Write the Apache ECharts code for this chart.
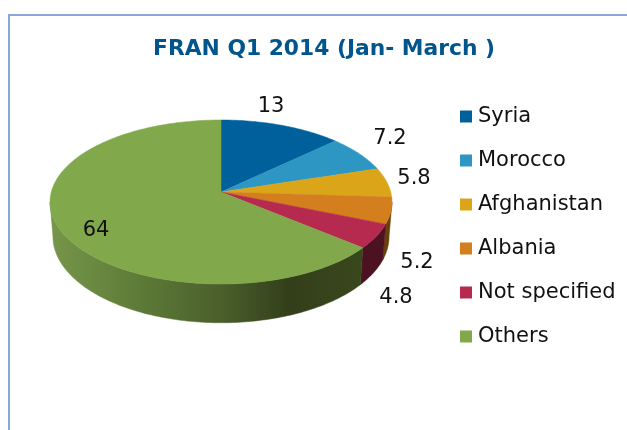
<!DOCTYPE html>
<html>
<head>
<meta charset="utf-8">
<style>html,body{margin:0;padding:0;background:#fff}#c{width:627px;height:430px}</style>
<script src="https://cdn.jsdelivr.net/npm/echarts@6/dist/echarts.min.js"></script>
</head>
<body>
<div id="c"></div>
<script>
const categories = ['Syria', 'Morocco', 'Afghanistan', 'Albania', 'Not specified', 'Others'];
const values = [13, 7.2, 5.8, 5.2, 4.8, 64];
const valueLabels = ['13', '7.2', '5.8', '5.2', '4.8', '64'];
const colors = ['#00609c', '#2e96c3', '#dba519', '#d47f1e', '#b52a4e', '#81a84a'];
const titleText = 'FRAN Q1 2014 (Jan- March )';

// Layout of the tilted disc (perspective projection of a circle)
const CX = 221, AY = 192, RX = 169.7, RY = 80.8, K = 0.122, DEPTH = 34, BOTTOM_SCALE = 0.983;
const VIS_FROM = 97, VIS_TO = 263;
const labelPos = [[271, 107], [390, 139], [414, 179], [417, 263], [396, 298], [96, 231]];
const wallFill = [
  '#003a5e', '#1c5a75', '#6f5410', '#6b3f0a', '#4d1222',
  new echarts.graphic.LinearGradient(50, 0, 392, 0, [
    { offset: 0, color: '#76964a' },
    { offset: 0.25, color: '#5f7c38' },
    { offset: 0.5, color: '#4a5f2b' },
    { offset: 0.7, color: '#333f1a' },
    { offset: 1, color: '#3b4a1e' }
  ], true)
];

function project(deg, lower) {
  const t = deg * Math.PI / 180, X = Math.sin(t), Y = Math.cos(t), den = 1 + K * Y;
  return [
    CX + RX * X / den * (lower ? BOTTOM_SCALE : 1),
    AY - RY * Y / den + (lower ? DEPTH / den : 0)
  ];
}
function arc(from, to, lower) {
  const pts = [], n = Math.max(2, Math.ceil(to - from));
  for (let i = 0; i <= n; i++) pts.push(project(from + (to - from) * i / n, lower));
  return pts;
}

const total = values.reduce((a, b) => a + b, 0);
let running = 0;
const series = categories.map((name, i) => {
  const start = running;
  running += values[i];
  return {
    type: 'custom',
    name,
    coordinateSystem: 'none',
    animation: false,
    silent: true,
    itemStyle: { color: colors[i] },
    data: [[values[i], start]],
    renderItem(params, api) {
      const a0 = api.value(1) / total * 360;
      const a1 = a0 + api.value(0) / total * 360;
      const children = [];
      const w0 = Math.max(a0, VIS_FROM), w1 = Math.min(a1, VIS_TO);
      if (w1 > w0) {
        children.push({
          type: 'polygon',
          shape: { points: arc(w0, w1, false).concat(arc(w0, w1, true).reverse()) },
          style: { fill: wallFill[i], stroke: wallFill[i], lineWidth: 0.5 }
        });
      }
      children.push({
        type: 'polygon',
        shape: { points: [[CX, AY]].concat(arc(a0, a1, false)) },
        style: { fill: colors[i], stroke: colors[i], lineWidth: 0.5 }
      });
      children.push({
        type: 'text',
        style: {
          text: valueLabels[i], x: labelPos[i][0], y: labelPos[i][1],
          align: 'center', verticalAlign: 'middle',
          fill: '#111', font: '21px "DejaVu Sans"'
        }
      });
      return { type: 'group', children };
    }
  };
});

const chart = echarts.init(document.getElementById('c'), null, { renderer: 'canvas' });
chart.setOption({
  animation: false,
  backgroundColor: '#fff',
  title: {
    text: titleText, left: 319, top: 33, textAlign: 'center',
    textStyle: { color: '#00558c', fontFamily: 'DejaVu Sans', fontWeight: 'bold', fontSize: 21.8 }
  },
  legend: {
    orient: 'vertical', left: 460, top: 106, padding: 0, icon: 'rect',
    itemWidth: 12, itemHeight: 12, itemGap: 23, selectedMode: false,
    data: categories,
    textStyle: { color: '#111', fontFamily: 'DejaVu Sans', fontSize: 21, padding: [0, 0, 0, 1] }
  },
  graphic: [{
    type: 'polyline', silent: true,
    shape: { points: [[9, 430], [9, 15], [627, 15]] },
    style: { fill: 'none', stroke: '#8aa8d6', lineWidth: 2 }
  }],
  series
});
</script>
</body>
</html>
